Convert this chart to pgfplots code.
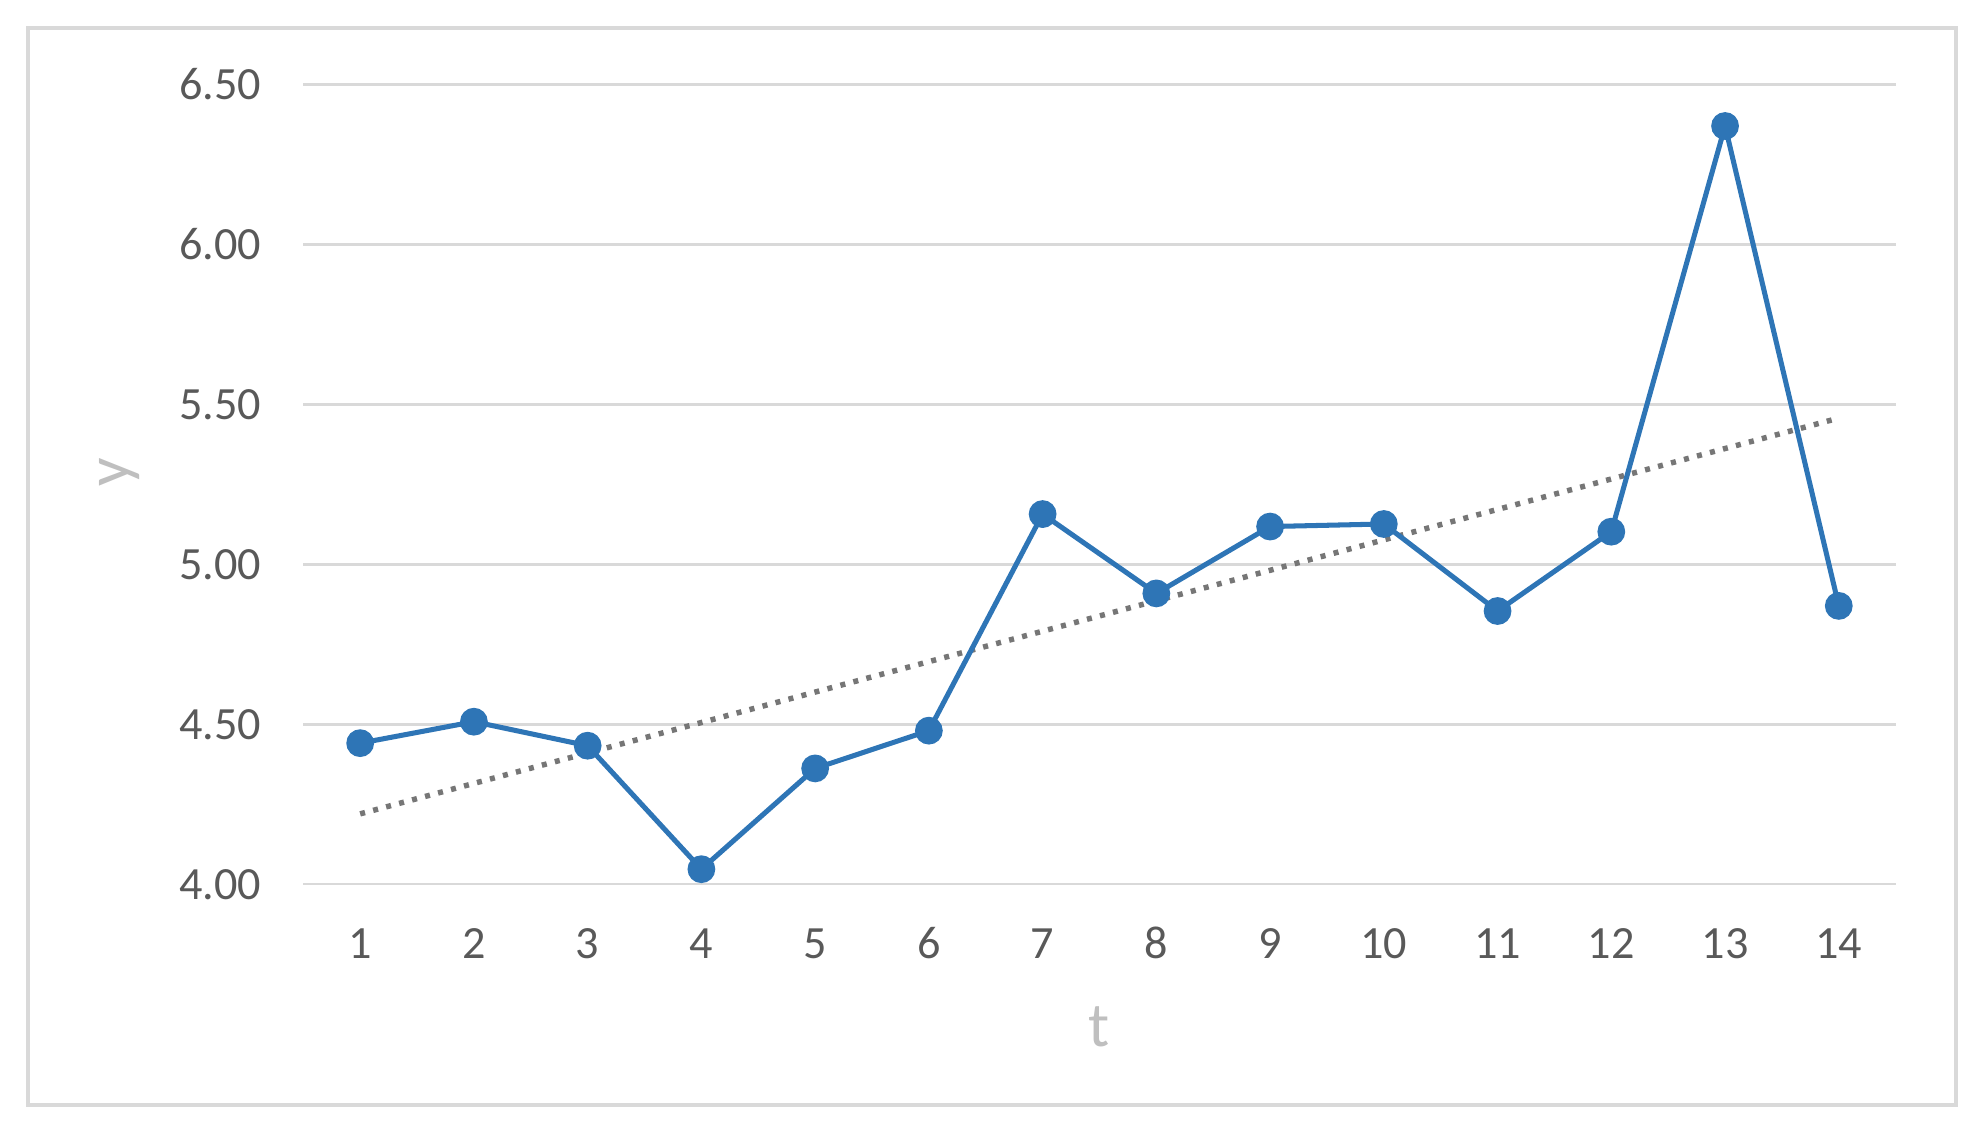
\documentclass[border=0pt]{standalone}
\usepackage{fontspec}
\setmainfont{Carlito}
\usepackage{pgfplots}
\pgfplotsset{compat=1.18}
\definecolor{lineblue}{RGB}{46,117,182}
\definecolor{gridgray}{RGB}{217,217,217}
\definecolor{ticktext}{RGB}{89,89,89}
\definecolor{titlegray}{RGB}{191,191,191}
\definecolor{trendgray}{RGB}{118,118,118}
\begin{document}
\begin{tikzpicture}
\path[use as bounding box] (0,0) rectangle (470.4pt,268.8pt);
\draw[gridgray, line width=0.9pt] (6.6pt,5.7pt) rectangle (465.9pt,262.2pt);
\begin{axis}[
  at={(72.24pt,58.2pt)}, anchor=south west,
  scale only axis, width=379.26pt, height=190.5pt,
  xmin=0.5, xmax=14.5, ymin=4, ymax=6.5,
  axis line style={draw=none}, major tick length=0pt,
  xtick={1,2,3,4,5,6,7,8,9,10,11,12,13,14},
  ytick={4,4.5,5,5.5,6,6.5},
  ymajorgrids, grid style={gridgray, line width=0.6pt},
  yticklabel style={/pgf/number format/fixed, /pgf/number format/fixed zerofill, /pgf/number format/precision=2},
  /pgf/number format/assume math mode=true,
  tick label style={font=\fontsize{11}{13}\selectfont, text=ticktext},
  xticklabel style={anchor=base, yshift=-17.6pt},
  yticklabel style={anchor=east, inner sep=0pt, xshift=-9.9pt},
  xlabel={t}, ylabel={y},
  xlabel style={at={(axis description cs:0.5,-0.178)}, anchor=center, font=\fontsize{15}{18}\selectfont, text=titlegray},
  ylabel style={at={(axis description cs:-0.1153,0.515)}, anchor=center, font=\fontsize{15}{18}\selectfont, text=titlegray},
  clip=false,
]
\addplot[trendgray, line width=1.3pt, dash pattern=on 1.2pt off 2.0pt] coordinates {(1,4.220) (14,5.457)};
\addplot[lineblue, line width=1.2pt, mark=*, mark size=2.7pt, mark options={fill=lineblue, draw=lineblue, solid}] coordinates {
(1,4.441) (2,4.508) (3,4.433) (4,4.047) (5,4.362) (6,4.480) (7,5.157)
(8,4.909) (9,5.118) (10,5.126) (11,4.854) (12,5.102) (13,6.370) (14,4.870)
};
\end{axis}
\end{tikzpicture}
\end{document}
